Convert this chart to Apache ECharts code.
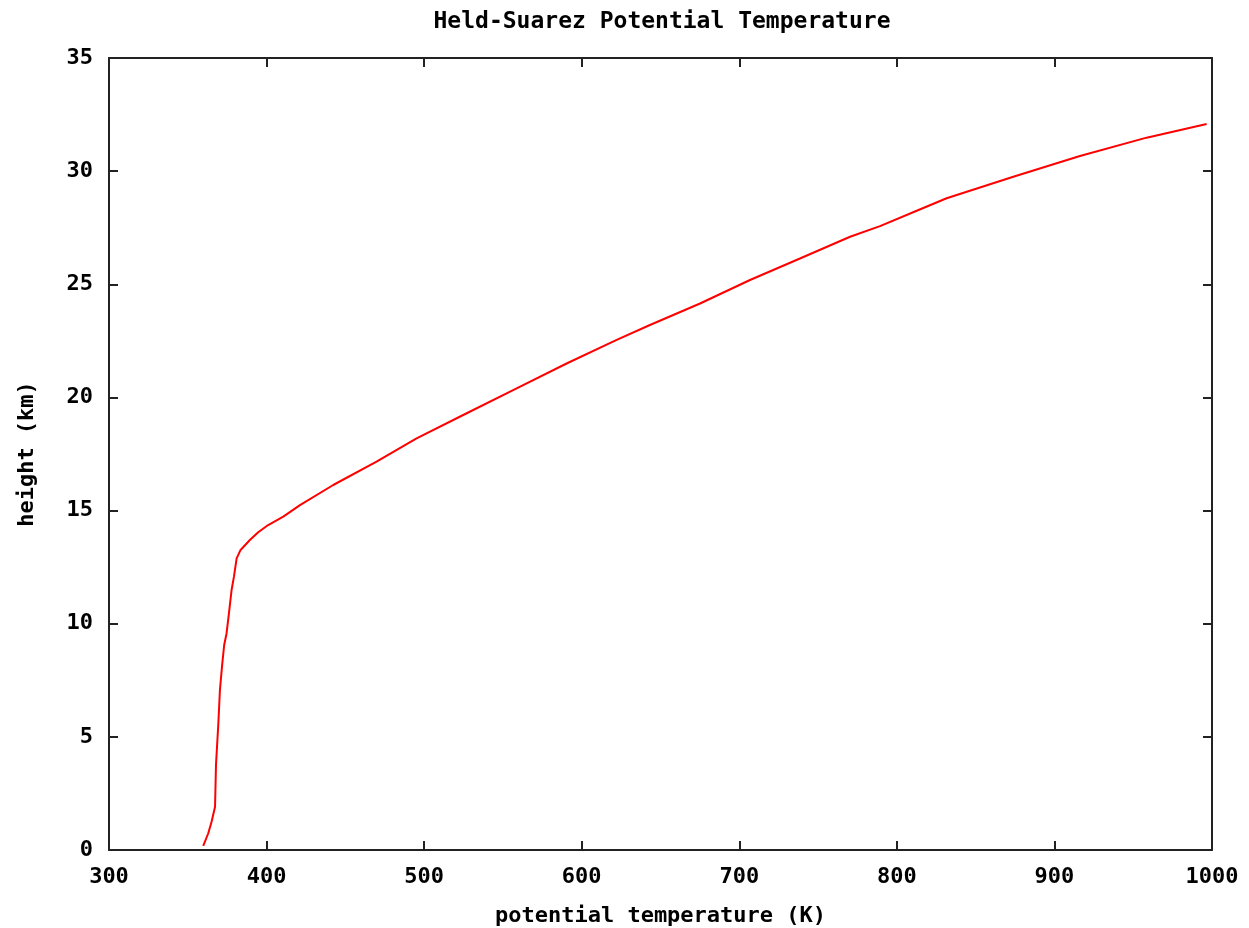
<!DOCTYPE html>
<html>
<head>
<meta charset="utf-8">
<script src="https://cdn.jsdelivr.net/npm/echarts@6/dist/echarts.min.js"></script>
<style>html,body{margin:0;padding:0;background:#fff;}#c{width:1249px;height:928px;}</style>
</head>
<body>
<div id="c"></div>
<script>
const title = 'Held-Suarez Potential Temperature';
const xName = 'potential temperature (K)';
const yName = 'height (km)';
const temperature = [359.8, 363.0, 365.1, 367.3, 367.9, 369.4, 370.4, 371.9, 373.1, 374.6, 376.1, 377.8, 379.3, 381.0, 383.5, 389.4, 394.7, 401.0, 410.6, 421.2, 442.3, 469.8, 495.2, 527.0, 558.7, 590.4, 622.2, 643.3, 675.1, 706.8, 738.5, 770.3, 789.3, 812.6, 831.6, 873.9, 916.2, 958.5, 996.6];
const height = [0.18, 0.74, 1.25, 1.91, 3.76, 5.6, 7.07, 8.25, 9.06, 9.57, 10.45, 11.49, 12.08, 12.89, 13.26, 13.7, 14.04, 14.36, 14.73, 15.24, 16.13, 17.16, 18.19, 19.3, 20.4, 21.5, 22.54, 23.2, 24.15, 25.19, 26.14, 27.1, 27.57, 28.25, 28.8, 29.75, 30.67, 31.48, 32.08];

const font = '"DejaVu Sans Mono", monospace';
const data = temperature.map((t, i) => [t, height[i]]);
const chart = echarts.init(document.getElementById('c'), null, {renderer: 'canvas'});
const lineStyle = {color: '#222', width: 2};
const tickStyle = {show: true, inside: true, length: 9, lineStyle: {color: '#222', width: 2}};
const labelStyle = {color: '#000', fontFamily: font, fontWeight: 'bold', fontSize: 22};
const fmt = v => String(v);
chart.setOption({
  animation: false,
  backgroundColor: '#fff',
  title: {
    text: title, left: 657, top: 6, textAlign: 'center',
    textStyle: {color: '#000', fontFamily: font, fontWeight: 'bold', fontSize: 23}
  },
  grid: {left: 109, right: 37, top: 58, bottom: 78, containLabel: false, outerBoundsMode: 'none'},
  xAxis: [{
    type: 'value', min: 300, max: 1000, interval: 100, position: 'bottom',
    name: xName, nameLocation: 'middle', nameGap: 55,
    nameTextStyle: labelStyle,
    axisLine: {show: true, onZero: false, lineStyle: lineStyle},
    axisTick: tickStyle,
    axisLabel: Object.assign({margin: 16, formatter: fmt}, labelStyle),
    splitLine: {show: false}
  }, {
    type: 'value', min: 300, max: 1000, interval: 100, position: 'top',
    axisLine: {show: true, onZero: false, lineStyle: lineStyle},
    axisTick: tickStyle, axisLabel: {show: false}, splitLine: {show: false}
  }],
  yAxis: [{
    type: 'value', min: 0, max: 35, interval: 5, position: 'left',
    name: yName, nameLocation: 'middle', nameGap: 71, nameRotate: 90,
    nameTextStyle: labelStyle,
    axisLine: {show: true, onZero: false, lineStyle: lineStyle},
    axisTick: tickStyle,
    axisLabel: Object.assign({margin: 16, formatter: fmt}, labelStyle),
    splitLine: {show: false}
  }, {
    type: 'value', min: 0, max: 35, interval: 5, position: 'right',
    axisLine: {show: true, onZero: false, lineStyle: lineStyle},
    axisTick: tickStyle, axisLabel: {show: false}, splitLine: {show: false}
  }],
  series: [{
    type: 'line', data: data, xAxisIndex: 0, yAxisIndex: 0,
    showSymbol: false, smooth: false,
    lineStyle: {color: '#ff0000', width: 2}
  }]
});
</script>
</body>
</html>
